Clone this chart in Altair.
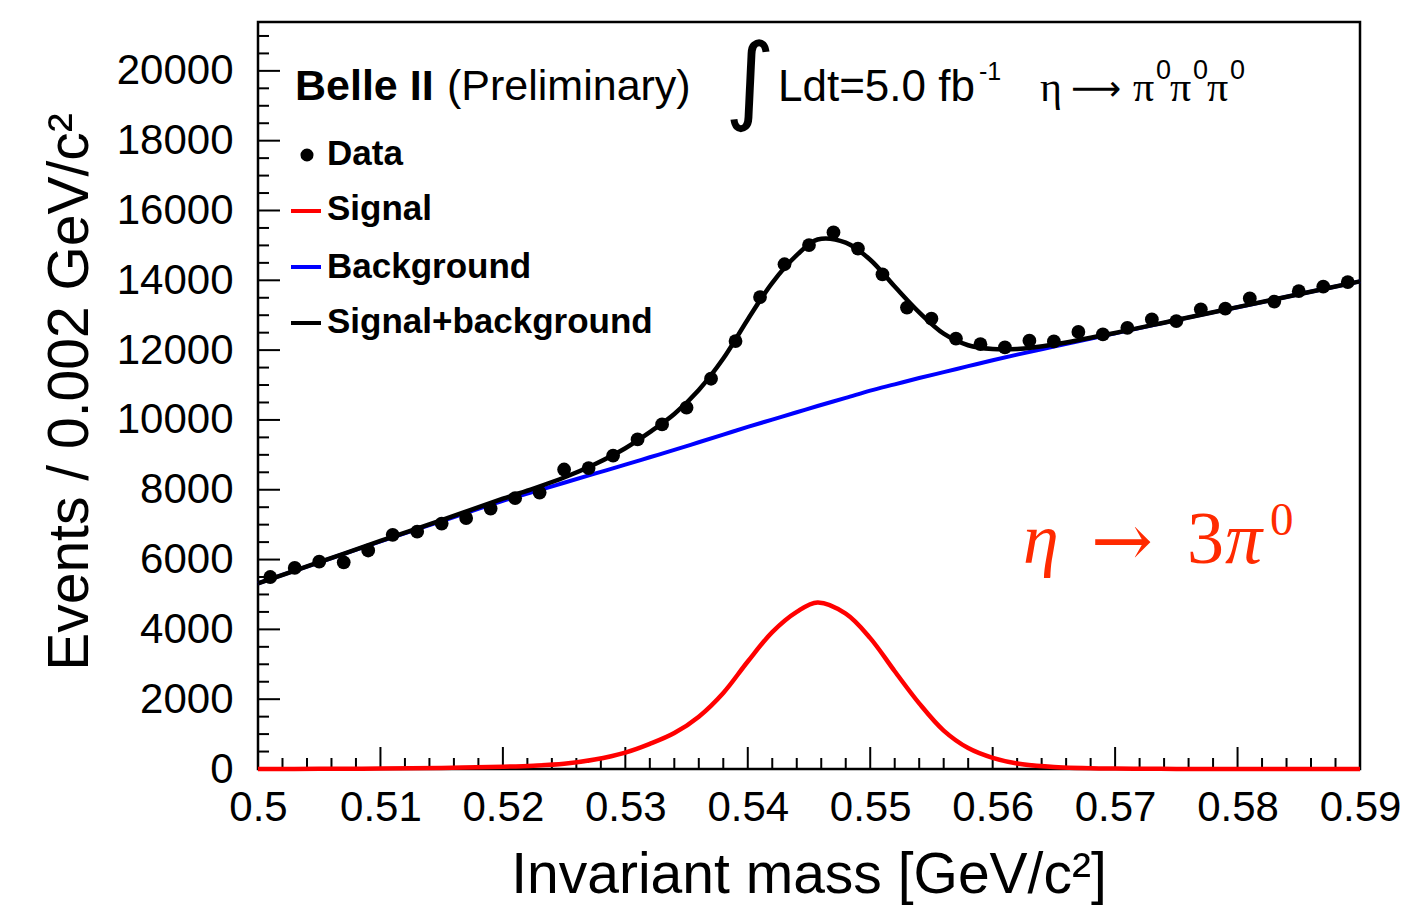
import altair as alt
import pandas as pd

# ---------------- data ----------------
bin_centers = [0.501, 0.503, 0.505, 0.507, 0.509, 0.511, 0.513, 0.515, 0.517, 0.519,
               0.521, 0.523, 0.525, 0.527, 0.529, 0.531, 0.533, 0.535, 0.537, 0.539,
               0.541, 0.543, 0.545, 0.547, 0.549, 0.551, 0.553, 0.555, 0.557, 0.559,
               0.561, 0.563, 0.565, 0.567, 0.569, 0.571, 0.573, 0.575, 0.577, 0.579,
               0.581, 0.583, 0.585, 0.587, 0.589]
events = [5500, 5760, 5940, 5920, 6260, 6710, 6800, 7030, 7190, 7460,
          7760, 7920, 8580, 8620, 8980, 9440, 9870, 10350, 11180, 12260,
          13520, 14460, 15010, 15370, 14910, 14170, 13220, 12900, 12330, 12170,
          12080, 12270, 12250, 12520, 12450, 12640, 12880, 12830, 13170, 13190,
          13480, 13390, 13690, 13820, 13950]

curve_x = [0.500, 0.505, 0.510, 0.515, 0.520, 0.5225, 0.525, 0.5275, 0.530, 0.532,
           0.534, 0.536, 0.538, 0.540, 0.542, 0.544, 0.5457, 0.548, 0.550, 0.552,
           0.554, 0.556, 0.558, 0.560, 0.562, 0.565, 0.570, 0.575, 0.580, 0.585, 0.590]
signal = [0, 5, 12, 30, 65, 95, 150, 270, 470, 720,
          1030, 1500, 2180, 3080, 3920, 4500, 4770, 4450, 3750, 2800,
          1880, 1100, 600, 320, 160, 60, 12, 3, 1, 0, 0]
background = [5320, 5920, 6520, 7100, 7680, 7940, 8200, 8460, 8720, 8930,
              9140, 9360, 9580, 9800, 10010, 10220, 10400, 10630, 10840, 11020,
              11200, 11370, 11540, 11710, 11870, 12100, 12480, 12860, 13230, 13600, 13970]
total = [s + b for s, b in zip(signal, background)]

x_major = [0.50, 0.51, 0.52, 0.53, 0.54, 0.55, 0.56, 0.57, 0.58, 0.59]
x_minor = [0.502, 0.504, 0.506, 0.508, 0.512, 0.514, 0.516, 0.518, 0.522, 0.524, 0.526, 0.528,
           0.532, 0.534, 0.536, 0.538, 0.542, 0.544, 0.546, 0.548, 0.552, 0.554, 0.556, 0.558,
           0.562, 0.564, 0.566, 0.568, 0.572, 0.574, 0.576, 0.578, 0.582, 0.584, 0.586, 0.588]
y_major = [0, 2000, 4000, 6000, 8000, 10000, 12000, 14000, 16000, 18000, 20000]
y_minor = [500, 1000, 1500, 2500, 3000, 3500, 4500, 5000, 5500, 6500, 7000, 7500,
           8500, 9000, 9500, 10500, 11000, 11500, 12500, 13000, 13500, 14500, 15000, 15500,
           16500, 17000, 17500, 18500, 19000, 19500, 20500, 21000]

# ---------------- layout ----------------
W, H = 1102, 747
LEFT, TOP = 258, 22
FONT = "Liberation Sans"

xscale = alt.Scale(domain=[0.5, 0.59], nice=False, zero=False)
yscale = alt.Scale(domain=[0, 21400], nice=False, zero=True)
xax = alt.Axis(values=x_major, format="~g", ticks=False, tickSize=0, domain=False, grid=False,
               labelFont=FONT, labelFontSize=42, labelColor="black", labelPadding=18,
               labelFlush=False, labelOverlap=False)
yax = alt.Axis(values=y_major, format="d", ticks=False, tickSize=0, domain=False, grid=False,
               labelFont=FONT, labelFontSize=42, labelColor="black", labelPadding=25,
               labelOverlap=False)

def X(field):
    return alt.X(field, type="quantitative", scale=xscale, axis=xax, title="")

def Y(field):
    return alt.Y(field, type="quantitative", scale=yscale, axis=yax, title="")

curves = pd.DataFrame({"m": curve_x, "sig": signal, "bg": background, "tot": total})
points = pd.DataFrame({"m": bin_centers, "n": events})

bg_line = alt.Chart(curves).mark_line(color="#0000ff", strokeWidth=4, interpolate="monotone").encode(
    x=X("m"), y=Y("bg"))
tot_line = alt.Chart(curves).mark_line(color="black", strokeWidth=4.5, interpolate="catmull-rom").encode(
    x=X("m"), y=Y("tot"))
sig_line = alt.Chart(curves).mark_line(color="#ff0000", strokeWidth=4.5, interpolate="catmull-rom").encode(
    x=X("m"), y=Y("sig"))
dots = alt.Chart(points).mark_circle(color="black", opacity=1, size=190).encode(
    x=X("m"), y=Y("n"))

# inward ticks
xmaj = alt.Chart(pd.DataFrame({"m": x_major})).mark_rule(color="black", strokeWidth=2).encode(
    x=X("m"), y=alt.value(H), y2=alt.value(H - 22))
xmin = alt.Chart(pd.DataFrame({"m": x_minor})).mark_rule(color="black", strokeWidth=2).encode(
    x=X("m"), y=alt.value(H), y2=alt.value(H - 11))
ymaj = alt.Chart(pd.DataFrame({"v": y_major})).mark_rule(color="black", strokeWidth=2).encode(
    y=Y("v"), x=alt.value(0), x2=alt.value(22))
ymin = alt.Chart(pd.DataFrame({"v": y_minor})).mark_rule(color="black", strokeWidth=2).encode(
    y=Y("v"), x=alt.value(0), x2=alt.value(11))


def txt(text, x, y, size, font=FONT, align="left", weight="normal", style="normal",
        color="black", angle=0, baseline="alphabetic"):
    kw = dict(align=align, baseline=baseline, fontSize=size, font=font,
              fontWeight=weight, fontStyle=style, color=color)
    if angle:
        kw["angle"] = angle
    return alt.Chart(pd.DataFrame({"t": [text]})).mark_text(**kw).encode(
        x=alt.value(x - LEFT), y=alt.value(y - TOP), text="t:N")


RED = "#ff2a00"
texts = [
    # axis titles
    txt("Invariant mass [GeV/c²]", 809, 893, 57, align="center"),
    txt("Events / 0.002 GeV/c²", 88, 392, 57, align="center", angle=270),
    # header
    txt("Belle II", 295, 100, 43, weight="bold"),
    txt("(Preliminary)", 447, 100, 43),
    txt("∫", 750, 112, 96, font="DejaVu Sans", align="center"),
    txt("Ldt=5.0 fb", 778, 101, 44),
    txt("-1", 979, 80, 25),
    txt("η", 1040, 101, 42, font="Liberation Serif"),
    txt("⟶", 1096, 100, 35, font="DejaVu Sans", align="center"),
    txt("π", 1133, 101, 42, font="Liberation Serif"),
    txt("0", 1156, 79, 27),
    txt("π", 1170, 101, 42, font="Liberation Serif"),
    txt("0", 1193, 79, 27),
    txt("π", 1207, 101, 42, font="Liberation Serif"),
    txt("0", 1230, 79, 27),
    # legend
    txt("Data", 327, 165, 35, weight="bold"),
    txt("Signal", 327, 220, 35, weight="bold"),
    txt("Background", 327, 278, 35, weight="bold"),
    txt("Signal+background", 327, 333, 35, weight="bold"),
    # red annotation
    txt("η", 1023, 563, 72, font="Liberation Serif", style="italic", color=RED),
    txt("→", 1122, 566, 74, font="DejaVu Serif", align="center", color=RED),
    txt("3", 1187, 563, 74, font="Liberation Serif", color=RED),
    txt("π", 1225, 563, 74, font="Liberation Serif", style="italic", color=RED),
    txt("0", 1270, 535, 47, font="Liberation Serif", color=RED),
]

one = pd.DataFrame({"k": [0]})
leg_dot = alt.Chart(one).mark_circle(color="black", opacity=1, size=170).encode(
    x=alt.value(307 - LEFT), y=alt.value(155 - TOP))
leg_sig = alt.Chart(one).mark_rule(color="#ff0000", strokeWidth=4).encode(
    x=alt.value(291 - LEFT), x2=alt.value(321 - LEFT), y=alt.value(211 - TOP))
leg_bg = alt.Chart(one).mark_rule(color="#0000ff", strokeWidth=4).encode(
    x=alt.value(291 - LEFT), x2=alt.value(321 - LEFT), y=alt.value(267 - TOP))
leg_tot = alt.Chart(one).mark_rule(color="black", strokeWidth=4).encode(
    x=alt.value(291 - LEFT), x2=alt.value(321 - LEFT), y=alt.value(323 - TOP))

chart = alt.layer(
    xmaj, xmin, ymaj, ymin,
    bg_line, tot_line, dots, sig_line,
    leg_dot, leg_sig, leg_bg, leg_tot,
    *texts
).properties(
    width=W, height=H,
    autosize=alt.AutoSizeParams(type="none"),
    padding={"left": LEFT, "top": TOP, "right": 1404 - LEFT - W, "bottom": 905 - TOP - H},
    background="white",
).configure_view(stroke="black", strokeWidth=2.5)

chart.save("out.html", embed_options={"renderer": "svg", "actions": False})
